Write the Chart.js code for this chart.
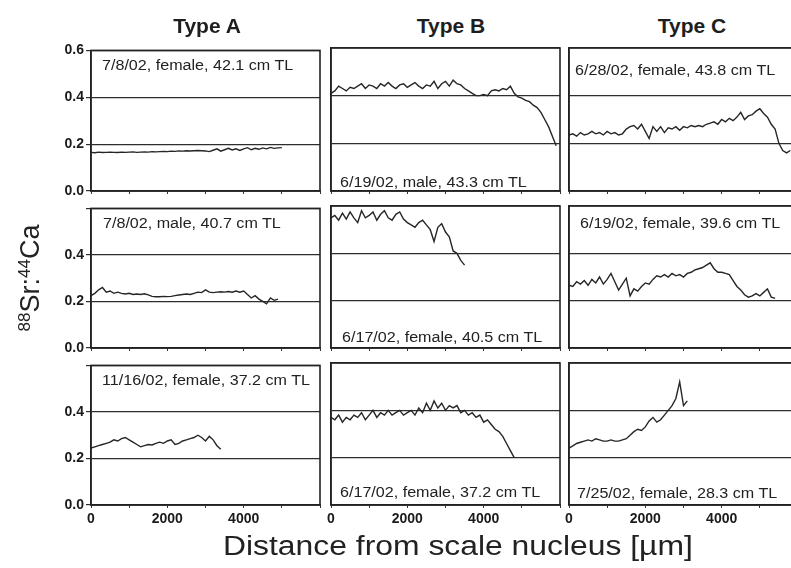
<!DOCTYPE html>
<html>
<head>
<meta charset="utf-8">
<script src="https://cdn.jsdelivr.net/npm/chart.js@4.4.1/dist/chart.umd.min.js"></script>
<style>
  html, body { margin:0; padding:0; background:#fff; }
  body { width:791px; height:568px; position:relative; overflow:hidden; font-family:"Liberation Sans", Arial, sans-serif; color:#222; }
  canvas { position:absolute; }
  .t { position:absolute; white-space:nowrap; }
  .coltitle { font-weight:bold; font-size:21px; line-height:24px; width:160px; text-align:center; color:#1e1e1e; }
  .note { font-size:14px; line-height:16px; transform:scaleX(1.15); transform-origin:left center; }
  .xtitle { font-size:27px; line-height:30px; transform:scaleX(1.18); transform-origin:left center; }
  .ytitle { font-size:27px; line-height:30px; width:140px; text-align:center; transform:rotate(-90deg); }
  .ytitle sup { font-size:17px; vertical-align:9px; line-height:0; }
</style>
</head>
<body>
<script>
// ---------- data ----------
const distance = [0,100,200,300,400,500,600,700,800,900,1000,1100,1200,1300,1400,1500,1600,1700,1800,1900,
  2000,2100,2200,2300,2400,2500,2600,2700,2800,2900,3000,3100,3200,3300,3400,3500,3600,3700,3800,3900,
  4000,4100,4200,4300,4400,4500,4600,4700,4800,4900,5000,5100,5200,5300,5400,5500,5600,5700,5800,5900];

const columnTitles = ["Type A", "Type B", "Type C"];
const yTicks = [0.0, 0.2, 0.4, 0.6];
const xTickLabels = [0, 2000, 4000];

// Type A
const typeA_0708_female = [0.165,0.163,0.166,0.164,0.165,0.166,0.165,0.164,0.166,0.165,0.166,0.167,0.165,0.166,0.167,0.166,0.168,0.167,0.168,0.169,
  0.168,0.17,0.169,0.171,0.17,0.172,0.171,0.172,0.173,0.172,0.171,0.168,0.174,0.18,0.17,0.176,0.182,0.175,0.18,0.173,
  0.18,0.185,0.176,0.182,0.178,0.184,0.18,0.186,0.182,0.184,0.185];
const typeA_0708_male = [0.225,0.235,0.25,0.26,0.24,0.245,0.235,0.24,0.235,0.232,0.235,0.23,0.232,0.23,0.233,0.228,0.222,0.22,0.22,0.222,
  0.221,0.222,0.225,0.228,0.23,0.232,0.23,0.235,0.24,0.238,0.25,0.24,0.238,0.24,0.242,0.24,0.243,0.24,0.245,0.24,
  0.245,0.23,0.215,0.225,0.21,0.2,0.19,0.215,0.205,0.21];
const typeA_1116_female = [0.245,0.25,0.255,0.26,0.265,0.27,0.28,0.275,0.285,0.29,0.28,0.27,0.26,0.25,0.255,0.26,0.258,0.265,0.27,0.265,
  0.275,0.28,0.26,0.265,0.275,0.28,0.285,0.29,0.3,0.29,0.275,0.295,0.28,0.255,0.24];

// Type B
const typeB_0619_male = [0.41,0.42,0.44,0.43,0.42,0.435,0.43,0.44,0.45,0.43,0.445,0.44,0.43,0.45,0.44,0.455,0.44,0.43,0.445,0.45,
  0.435,0.445,0.455,0.44,0.43,0.445,0.44,0.46,0.43,0.45,0.46,0.44,0.465,0.45,0.445,0.43,0.42,0.41,0.4,0.4,
  0.405,0.4,0.42,0.425,0.42,0.43,0.425,0.44,0.41,0.395,0.39,0.38,0.375,0.36,0.35,0.33,0.3,0.27,0.23,0.19];
const typeB_0617_female405 = [0.55,0.56,0.54,0.57,0.545,0.575,0.55,0.53,0.58,0.55,0.56,0.575,0.54,0.565,0.58,0.55,0.54,0.565,0.575,0.545,
  0.53,0.52,0.51,0.53,0.54,0.52,0.5,0.45,0.51,0.525,0.49,0.47,0.41,0.4,0.37,0.35];
const typeB_0617_female372 = [0.37,0.36,0.38,0.35,0.37,0.36,0.38,0.37,0.39,0.36,0.38,0.4,0.37,0.39,0.38,0.4,0.38,0.39,0.4,0.38,
  0.39,0.4,0.38,0.41,0.39,0.43,0.4,0.44,0.41,0.43,0.4,0.42,0.41,0.42,0.39,0.4,0.38,0.39,0.37,0.38,
  0.35,0.36,0.34,0.32,0.31,0.29,0.26,0.23,0.2];

// Type C
const typeC_0628_female = [0.235,0.24,0.23,0.245,0.235,0.24,0.25,0.24,0.245,0.235,0.25,0.24,0.245,0.235,0.24,0.26,0.27,0.275,0.26,0.28,
  0.25,0.22,0.27,0.25,0.27,0.245,0.265,0.26,0.27,0.255,0.27,0.265,0.275,0.27,0.275,0.27,0.28,0.285,0.29,0.28,
  0.3,0.29,0.305,0.295,0.31,0.33,0.3,0.315,0.32,0.335,0.345,0.325,0.31,0.28,0.26,0.2,0.17,0.16,0.17];
const typeC_0619_female = [0.265,0.26,0.28,0.27,0.285,0.265,0.29,0.275,0.3,0.27,0.29,0.315,0.28,0.245,0.27,0.295,0.22,0.25,0.24,0.26,
  0.275,0.27,0.29,0.305,0.3,0.31,0.3,0.315,0.305,0.31,0.3,0.315,0.32,0.33,0.335,0.34,0.35,0.36,0.335,0.32,
  0.32,0.315,0.31,0.285,0.26,0.245,0.225,0.215,0.22,0.23,0.22,0.235,0.25,0.215,0.21];
const typeC_0725_female = [0.24,0.25,0.26,0.265,0.27,0.275,0.27,0.28,0.275,0.27,0.27,0.275,0.27,0.27,0.275,0.28,0.295,0.31,0.32,0.315,
  0.33,0.355,0.37,0.35,0.36,0.38,0.4,0.42,0.45,0.52,0.42,0.44];

const panelSeries = [
  [typeA_0708_female, typeB_0619_male, typeC_0628_female],
  [typeA_0708_male, typeB_0617_female405, typeC_0619_female],
  [typeA_1116_female, typeB_0617_female372, typeC_0725_female]
];
const panelNotes = [
  ["7/8/02, female, 42.1 cm TL", "6/19/02, male, 43.3 cm TL", "6/28/02, female, 43.8 cm TL"],
  ["7/8/02, male, 40.7 cm TL", "6/17/02, female, 40.5 cm TL", "6/19/02, female, 39.6 cm TL"],
  ["11/16/02, female, 37.2 cm TL", "6/17/02, female, 37.2 cm TL", "7/25/02, female, 28.3 cm TL"]
];
const yTitleHTML = "<sup>88</sup>Sr:<sup>44</sup>Ca";
const xTitle = "Distance from scale nucleus [\u00b5m]";

// ---------- layout ----------
const colLeft = [91, 331, 569];
const colWidth = 229;
const rowTop = [48, 206, 363];
const rowHeight = [143, 142, 142];
const notePos = [ // [dx from panel left, center y absolute]
  [[11, 65], [9, 182], [6, 70]],
  [[12, 223], [11, 337], [11, 223]],
  [[11, 380], [9, 492], [8, 493]]
];
const PADL = 50, PADT = 8, PADR = 8, PADB = 30;

function addText(cls, html, left, top) {
  const d = document.createElement('div');
  d.className = 't ' + cls;
  d.innerHTML = html;
  d.style.left = left + 'px';
  d.style.top = top + 'px';
  document.body.appendChild(d);
  return d;
}

const framePlugin = {
  id: 'frame',
  afterDraw(chart) {
    const a = chart.chartArea, ctx = chart.ctx;
    ctx.save();
    ctx.strokeStyle = '#222';
    ctx.lineWidth = 1.6;
    ctx.strokeRect(a.left, a.top, a.right - a.left, a.bottom - a.top);
    ctx.restore();
  }
};

for (let r = 0; r < 3; r++) {
  for (let c = 0; c < 3; c++) {
    const vals = panelSeries[r][c];
    const pts = vals.map((v, i) => ({ x: distance[i], y: v }));
    const cv = document.createElement('canvas');
    const W = colWidth + PADL + PADR, H = rowHeight[r] + PADT + PADB;
    cv.width = W; cv.height = H;
    cv.style.width = W + 'px'; cv.style.height = H + 'px';
    cv.style.left = (colLeft[c] - PADL) + 'px';
    cv.style.top = (rowTop[r] - PADT) + 'px';
    document.body.appendChild(cv);
    const showY = c === 0, showX = r === 2;
    new Chart(cv, {
      type: 'line',
      data: { datasets: [{ data: pts, borderColor: '#262626', borderWidth: 1.4, pointRadius: 0, tension: 0, fill: false }] },
      options: {
        responsive: false, animation: false, devicePixelRatio: 1,
        layout: { padding: { top: PADT, right: PADR, left: 0, bottom: 0 } },
        plugins: { legend: { display: false }, tooltip: { enabled: false }, title: { display: false } },
        scales: {
          x: {
            type: 'linear', min: 0, max: 6000,
            afterFit: s => { s.height = PADB; },
            border: { display: true, color: '#222', width: 1.5 },
            grid: { drawOnChartArea: false, drawTicks: true, tickLength: 3, color: '#333' },
            ticks: {
              display: showX, stepSize: 1000, maxRotation: 0, autoSkip: false, padding: 3,
              color: '#1a1a1a', font: { family: '"Liberation Sans", Arial, sans-serif', size: 14, weight: 'bold' },
              callback: v => xTickLabels.includes(v) ? String(v) : ''
            }
          },
          y: {
            min: 0, max: 0.6,
            afterFit: s => { s.width = PADL; },
            border: { display: true, color: '#222', width: 1.5 },
            grid: { drawOnChartArea: true, drawTicks: showY, tickLength: 5, color: '#2e2e2e', lineWidth: 1.2 },
            ticks: {
              display: showY, stepSize: 0.2, padding: 2, autoSkip: false,
              color: '#1a1a1a', font: { family: '"Liberation Sans", Arial, sans-serif', size: 14, weight: 'bold' },
              callback: v => {
                const rv = Math.round(v * 10) / 10;
                if (!yTicks.includes(rv)) return '';
                if (r > 0 && rv === 0.6) return '';
                return rv.toFixed(1);
              }
            }
          }
        }
      },
      plugins: [framePlugin]
    });
    const np = notePos[r][c];
    addText('note', panelNotes[r][c], colLeft[c] + np[0], np[1] - 8);
  }
}

const titleCenters = [207, 451, 692];
columnTitles.forEach((t, i) => addText('coltitle', t, titleCenters[i] - 80, 14));
addText('xtitle', xTitle, 223, 531);
addText('ytitle', yTitleHTML, 30 - 70, 278 - 15);
</script>
</body>
</html>
